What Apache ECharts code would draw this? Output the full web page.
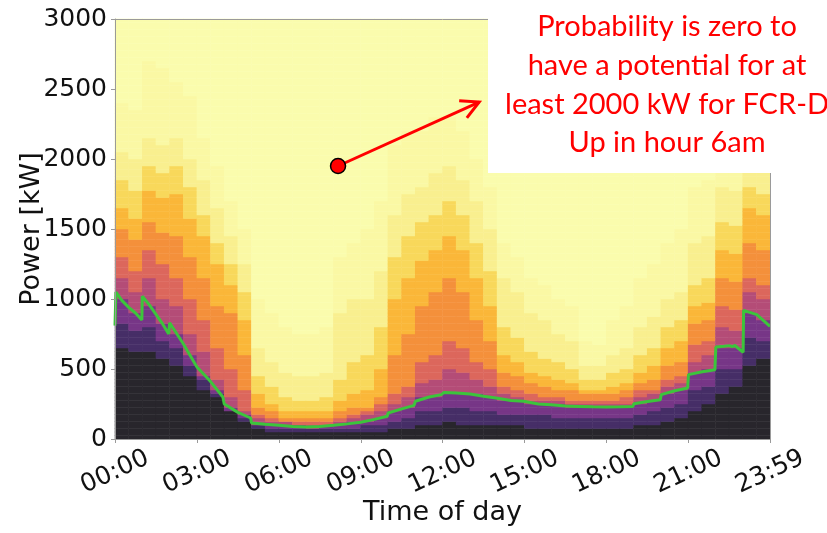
<!DOCTYPE html>
<html><head><meta charset="utf-8">
<script src="https://cdn.jsdelivr.net/npm/echarts@6/dist/echarts.min.js"></script>
<style>html,body{margin:0;padding:0;background:#fff}#chart{width:827px;height:533px}</style>
</head><body><div id="chart"></div>
<script>
// ---- Axis ticks ----
const xTickMinutes = [0, 180, 360, 540, 720, 900, 1080, 1260, 1439];
const xTickLabels = ['00:00', '03:00', '06:00', '09:00', '12:00', '15:00', '18:00', '21:00', '23:59'];
const yTicks = [0, 500, 1000, 1500, 2000, 2500, 3000];

// ---- Heatmap: 48 half-hour columns, 25 kW rows ----
// Probability assigned to each band level (0 = never reached, 10 = always reached)
const LEVEL_P = [0, 0.012, 0.04, 0.11, 0.19, 0.29, 0.42, 0.55, 0.7, 0.85, 1.0];
// Read contour heights (kW): top of region where level >= N, per half-hour column
const top10 = [650,630,620,580,520,450,360,290,190,130,75,60, 50,45,42,42,45,50,55,62,75,85,100,110, 115,110,105,100,92,88,85,82,80,78,76,75, 78,85,100,110,130,145,210,240,330,370,520,570];
const top9  = [820,770,790,700,640,530,415,325,210,150,92,80, 72,66,64,67,73,80,92,105,135,155,190,210, 220,215,208,200,185,180,170,165,160,156,153,152, 153,158,180,192,230,250,340,365,495,505,715,710];
const top8  = [1000,900,950,820,750,600,460,350,225,170,112,103, 96,88,86,92,102,113,130,150,200,228,288,310, 331,324,314,299,279,272,255,248,239,235,231,229, 228,232,258,274,330,356,472,488,661,640,908,845];
const top7  = [1160,1050,1150,1000,950,750,620,430,300,200,140,125, 115,105,100,110,130,140,170,200,260,300,400,430, 500,470,420,380,320,305,285,275,265,260,255,252, 255,260,300,320,370,400,560,590,800,780,1050,1000];
const top6  = [1300,1200,1350,1250,1150,1000,850,650,500,350,170,150, 135,125,120,130,155,170,200,240,320,380,550,600, 700,650,560,500,380,360,320,310,295,285,280,278, 285,295,340,360,420,460,680,710,950,930,1150,1100];
const top5  = [1500,1420,1550,1480,1450,1300,1150,950,900,600,220,190, 160,150,145,160,190,220,230,300,600,750,950,1050, 1150,1050,850,700,470,440,400,380,350,340,320,315, 330,345,400,430,520,560,820,850,1150,1130,1400,1350];
const top4  = [1650,1580,1780,1720,1750,1580,1450,1250,1100,850,320,260, 210,200,195,210,280,330,350,500,1000,1150,1280,1350, 1450,1350,1150,950,600,550,480,450,420,400,360,355, 380,400,480,520,650,700,950,980,1350,1330,1650,1600];
const top3  = [1850,1780,1950,1900,1950,1800,1600,1400,1250,1050,450,380, 300,280,280,300,420,550,600,800,1300,1450,1550,1600, 1700,1600,1400,1200,800,720,620,580,540,510,430,420, 470,500,600,650,800,850,1100,1150,1550,1530,1800,1750];
const top2  = [2050,2000,2150,2100,2150,2000,1850,1650,1450,1250,650,560, 480,450,450,480,900,1000,1000,1200,1600,1750,1800,1900, 1950,1850,1700,1500,1150,1050,900,850,750,700,530,520, 600,650,800,870,1000,1050,1400,1450,1800,1780,2000,1950];
const top1  = [2400,2350,2700,2650,2550,2450,2150,1950,1700,1500,1000,900, 800,750,750,800,1300,1400,1500,1700,2100,2200,2200,2300, 2300,2200,2000,1800,1400,1300,1150,1100,1000,950,700,680, 850,950,1150,1250,1400,1500,1800,1850,2150,2100,2300,2250];

// ---- Green line (minute of day, kW) ----
const greenMin = [0,2,15,30,45,59,60,75,90,105,118,120,150,177,180,210,237,240,270,298,300,330,360,390,420,450,480,510,540,570,598,600,630,657,660,690,717,723,750,780,810,837,840,870,898,900,930,958,960,990,1020,1050,1080,1110,1138,1140,1170,1198,1200,1230,1258,1260,1290,1318,1320,1338,1350,1356,1362,1380,1381,1410,1439];
const greenKW  = [810,1050,990,940,900,850,1020,960,890,820,750,830,680,530,515,410,300,250,190,150,115,105,98,90,85,90,98,108,119,140,162,186,215,240,270,300,317,333,328,321,306,293,281,275,269,257,250,245,240,236,233,230,228,230,233,252,268,281,317,345,364,460,480,495,657,662,667,660,668,619,919,888,805];

// ---- Annotation ----
const arrowFrom = [490, 1950];
const arrowTo = [800, 2407];
const noteLines = ['Probability is zero to', 'have a potential for at', 'least 2000 kW for FCR-D', 'Up in hour 6am'];

// Build heatmap cells
const tops = [top1, top2, top3, top4, top5, top6, top7, top8, top9, top10];
const NCOL = 48, NROW = 120, ROWKW = 25;
const colNames = [], rowNames = [];
for (let c = 0; c < NCOL; c++) colNames.push(String(c));
for (let r = 0; r < NROW; r++) rowNames.push(String(r));
const cells = [];
for (let c = 0; c < NCOL; c++) {
  for (let r = 0; r < NROW; r++) {
    const kw = r * ROWKW + ROWKW / 2;
    let lvl = 0;
    for (const t of tops) if (t[c] > kw) lvl++;
    cells.push([c, r, LEVEL_P[lvl]]);
  }
}
const greenData = greenMin.map((m, i) => [m, greenKW[i]]);

const FONT = 'DejaVu Sans';
const chart = echarts.init(document.getElementById('chart'), null, {renderer: 'canvas'});
const spine = {show: true, lineStyle: {color: '#9a9a9a', width: 1}};
chart.setOption({
  animation: false,
  backgroundColor: '#fff',
  grid: {left: 115, top: 19, width: 655, height: 420, outerBoundsMode: 'none', containLabel: false},
  xAxis: [
    {type: 'category', data: colNames, show: false, position: 'bottom', boundaryGap: true},
    {type: 'value', min: 0, max: 1439, position: 'bottom', z: 10,
      axisLine: spine,
      axisTick: {show: true, length: 4, lineStyle: {color: '#9a9a9a'}, customValues: xTickMinutes},
      splitLine: {show: false},
      axisLabel: {customValues: xTickMinutes, formatter: v => { const i = xTickMinutes.indexOf(v); return i >= 0 ? xTickLabels[i] : ''; },
        rotate: 25, align: 'center', verticalAlign: 'middle', margin: 33, fontSize: 25, fontFamily: FONT, color: '#111'},
      name: 'Time of day', nameLocation: 'middle', nameGap: 60, nameMoveOverlap: false,
      nameTextStyle: {fontSize: 27, fontFamily: FONT, color: '#111'}},
    {type: 'value', min: 0, max: 1439, position: 'top', z: 10, axisLine: spine,
      axisTick: {show: false}, axisLabel: {show: false}, splitLine: {show: false}}
  ],
  yAxis: [
    {type: 'category', data: rowNames, show: false, position: 'left', boundaryGap: true},
    {type: 'value', min: 0, max: 3000, interval: 500, position: 'left', z: 10,
      axisLine: spine,
      axisTick: {show: true, length: 4, lineStyle: {color: '#9a9a9a'}},
      splitLine: {show: false},
      axisLabel: {fontSize: 25, fontFamily: FONT, color: '#111', margin: 8,
        formatter: v => yTicks.indexOf(v) >= 0 ? String(v) : ''},
      name: 'Power [kW]', nameLocation: 'middle', nameGap: 70, nameMoveOverlap: false,
      nameTextStyle: {fontSize: 27, fontFamily: FONT, color: '#111'}},
    {type: 'value', min: 0, max: 3000, position: 'right', z: 10, axisLine: spine,
      axisTick: {show: false}, axisLabel: {show: false}, splitLine: {show: false}}
  ],
  visualMap: {
    type: 'continuous', show: false, min: 0, max: 1, dimension: 2, seriesIndex: 0,
    inRange: {color: ['#fafcad', '#f8d85a', '#fbaa2b', '#ef7f45', '#d66062', '#b24b78', '#823a8a', '#5d2e80', '#3a2e5a', '#28262c']}
  },
  series: [
    {type: 'heatmap', xAxisIndex: 0, yAxisIndex: 0, data: cells, progressive: 0,
      emphasis: {disabled: true}, itemStyle: {borderWidth: 0}},
    {type: 'line', xAxisIndex: 1, yAxisIndex: 1, data: greenData, showSymbol: false, z: 4,
      lineStyle: {color: '#3cc43c', width: 3}, silent: true},
    {type: 'custom', xAxisIndex: 1, yAxisIndex: 1, z: 6, clip: false,
      data: [[arrowFrom[0], arrowFrom[1], arrowTo[0], arrowTo[1]]],
      encode: {x: [0, 2], y: [1, 3]},
      renderItem: function (params, api) {
        const p0 = api.coord([api.value(0), api.value(1)]);
        const p1 = api.coord([api.value(2), api.value(3)]);
        const ang = Math.atan2(p1[1] - p0[1], p1[0] - p0[0]);
        const L = 20, a = Math.PI / 6.5;
        const h1 = [p1[0] - L * Math.cos(ang - a), p1[1] - L * Math.sin(ang - a)];
        const h2 = [p1[0] - L * Math.cos(ang + a), p1[1] - L * Math.sin(ang + a)];
        return {type: 'group', children: [
          {type: 'line', shape: {x1: p0[0], y1: p0[1], x2: p1[0], y2: p1[1]}, style: {stroke: '#ff0000', lineWidth: 3}},
          {type: 'polyline', shape: {points: [h1, p1, h2]}, style: {stroke: '#ff0000', lineWidth: 3, fill: null}},
          {type: 'circle', shape: {cx: p0[0], cy: p0[1], r: 7.5}, style: {fill: '#ff0000', stroke: '#000', lineWidth: 1.5}}
        ]};
      }}
  ],
  graphic: [
    {type: 'rect', z: 100, shape: {x: 488, y: 0, width: 339, height: 173}, style: {fill: '#ffffff'}},
    ...noteLines.map((t, i) => ({type: 'text', z: 101, x: 667, y: 27 + i * 38.7,
      style: {text: t, fill: '#ff0000', fontSize: 29, fontFamily: 'Lato', align: 'center', verticalAlign: 'middle'}}))
  ]
});
</script></body></html>
